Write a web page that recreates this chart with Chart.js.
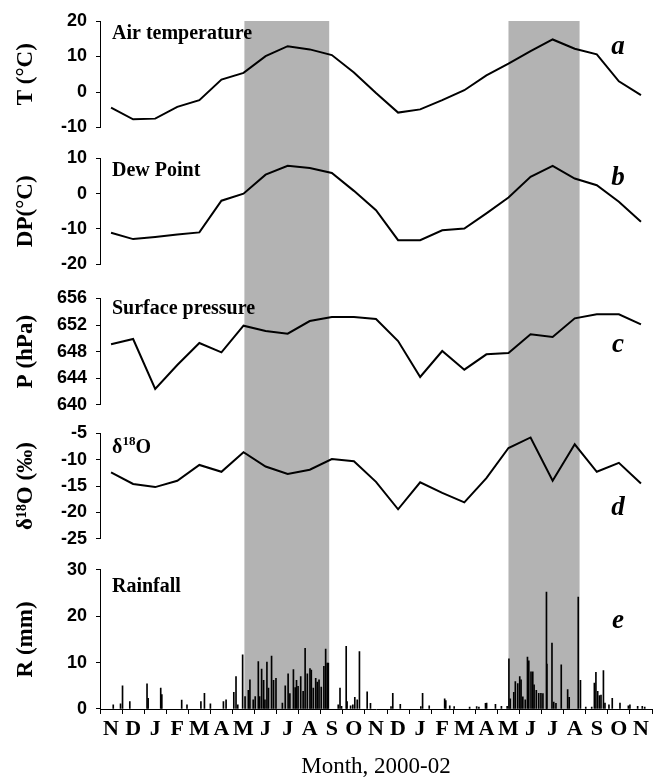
<!DOCTYPE html>
<html lang="en">
<head>
<meta charset="utf-8">
<title>Month, 2000-02</title>
<script src="https://cdn.jsdelivr.net/npm/chart.js"></script>
<style>
  html, body { margin: 0; padding: 0; background: #fff; }
  #wrap { width: 654px; height: 778px; }
</style>
</head>
<body>
<div id="wrap"><canvas id="chart" width="654" height="778"></canvas></div>
<script>
const months = ['N','D','J','F','M','A','M','J','J','A','S','O','N','D','J','F','M','A','M','J','J','A','S','O','N'];

// monthly means, Nov 2000 - Nov 2002
const airTemp  = [-4.4, -7.7, -7.5, -4.2, -2.3, 3.5, 5.4, 10.1, 12.9, 12.0, 10.4, 5.5, -0.3, -5.8, -4.9, -2.3, 0.5, 4.7, 8.0, 11.5, 14.8, 12.2, 10.6, 3.0, -0.9];
const dewPoint = [-11.1, -12.9, -12.3, -11.6, -11.0, -2.0, 0.0, 5.4, 7.9, 7.3, 5.9, 0.8, -4.7, -13.2, -13.2, -10.4, -9.9, -5.6, -1.1, 4.8, 7.9, 4.3, 2.4, -2.3, -8.0];
const pressure = [649.1, 649.9, 642.4, 646.0, 649.3, 647.9, 651.9, 651.1, 650.7, 652.6, 653.2, 653.2, 652.9, 649.6, 644.2, 648.1, 645.3, 647.6, 647.8, 650.6, 650.2, 653.0, 653.6, 653.6, 652.1];
const d18O     = [-12.4, -14.6, -15.2, -14.0, -11.0, -12.3, -8.6, -11.3, -12.7, -11.9, -9.9, -10.3, -14.2, -19.4, -14.3, -16.3, -18.1, -13.5, -7.8, -5.8, -14.0, -7.1, -12.3, -10.6, -14.5];

// daily rain events: time in months since 1 Nov 2000, amount in mm
const rainTime = [0.60, 0.93, 1.02, 1.35, 2.13, 2.18, 2.75, 2.80, 3.70, 3.94, 4.57, 4.73, 5.00, 5.59, 5.71,
  6.06, 6.16, 6.24, 6.46, 6.57, 6.72, 6.79, 6.94, 7.03, 7.17, 7.23, 7.32, 7.41, 7.47, 7.56, 7.63, 7.77, 7.86, 7.97,
  8.26, 8.39, 8.52, 8.60, 8.76, 8.84, 8.90, 8.97, 9.09, 9.20, 9.29, 9.39, 9.51, 9.57, 9.66, 9.77, 9.84, 9.92,
  10.02, 10.14, 10.22, 10.29, 10.34, 10.79, 10.87, 10.94, 11.15, 11.19, 11.35, 11.45, 11.54, 11.65, 11.75, 12.10, 12.25,
  13.18, 13.26, 13.60, 14.53, 14.61, 14.91, 15.61, 15.66, 15.84, 16.04, 16.74, 17.06, 17.16, 17.46, 17.51, 17.91,
  18.18, 18.44, 18.52, 18.58, 18.74, 18.81, 18.92, 19.01, 19.07, 19.15, 19.26, 19.36, 19.42, 19.52, 19.60, 19.66,
  19.76, 19.87, 19.97, 20.06, 20.22, 20.24, 20.47, 20.55, 20.65, 20.89, 21.18, 21.25, 21.66, 21.76,
  22.00, 22.27, 22.39, 22.46, 22.54, 22.62, 22.69, 22.80, 22.87, 23.05, 23.20, 23.55, 23.93, 24.00, 24.35, 24.56, 24.67];
const rainMm = [0.9, 1.1, 5.0, 1.6, 5.4, 2.3, 4.5, 3.1, 1.9, 0.9, 1.6, 3.4, 1.1, 1.6, 2.0,
  3.6, 7.0, 0.9, 11.7, 2.7, 4.0, 6.3, 2.0, 2.7, 10.2, 2.7, 8.6, 6.2, 2.0, 10.1, 4.5, 11.4, 6.2, 6.6,
  1.3, 5.0, 7.6, 3.3, 8.5, 4.6, 6.2, 4.9, 7.0, 3.8, 13.1, 7.6, 8.7, 8.4, 4.5, 6.6, 5.8, 6.3,
  4.7, 9.2, 12.9, 9.9, 9.9, 0.9, 4.5, 0.6, 13.5, 1.6, 0.7, 0.9, 2.5, 2.0, 12.4, 3.7, 1.2,
  0.5, 3.4, 1.0, 0.5, 3.4, 0.7, 2.2, 1.8, 0.7, 0.5, 0.4, 0.5, 0.4, 1.2, 1.3, 1.0,
  0.6, 0.6, 10.8, 2.2, 3.6, 5.9, 5.5, 7.0, 6.3, 2.6, 2.0, 11.2, 10.4, 8.0, 8.0, 5.2,
  4.0, 3.4, 3.4, 3.3, 25.2, 9.7, 14.2, 1.5, 1.2, 9.5, 4.2, 2.5, 24.1, 6.2,
  0.4, 0.4, 5.6, 7.9, 3.8, 2.9, 3.0, 8.3, 1.3, 0.9, 2.3, 1.3, 0.7, 0.9, 0.6, 0.6, 0.4];

// shaded wet seasons, months since 1 Nov 2000
const wetSeasons = [[6.54, 10.38], [18.5, 21.72]];

const serif = '"Liberation Serif", "Times New Roman", serif';
const sans = '"Liberation Sans", Arial, sans-serif';

function toPoints(values) {
  return values.map((v, i) => ({ x: i + 0.5, y: v }));
}

function panelAxis(title, min, max, step, order, stackWeight) {
  return {
    type: 'linear', position: 'left', stack: 'panels', weight: order, stackWeight,
    min, max,
    ticks: { stepSize: step, autoSkip: false, padding: 9, color: '#000',
      font: { family: sans, size: 18, weight: 'bold' } },
    grid: { drawOnChartArea: false, drawTicks: true, tickLength: 4, color: '#000' },
    border: { display: true, color: '#000', width: 1 },
    title: { display: true, text: title, color: '#000',
      font: { family: serif, size: 23, weight: 'bold', lineHeight: 1 }, padding: { top: 15, bottom: 0 } },
    afterFit(scale) { scale.width = 100; }
  };
}

function gapAxis(order, stackWeight) {
  return {
    type: 'linear', position: 'left', stack: 'panels', weight: order, stackWeight,
    min: 0, max: 1,
    ticks: { display: false }, grid: { display: false }, border: { display: false },
    afterFit(scale) { scale.width = 100; }
  };
}

const panelLabels = [
  { axis: 'yA', parts: [['Air temperature']], dy: 18, letter: 'a', letterDy: 33 },
  { axis: 'yB', parts: [['Dew Point']], dy: 18, letter: 'b', letterDy: 27 },
  { axis: 'yC', parts: [['Surface pressure']], dy: 16, letter: 'c', letterDy: 54 },
  { axis: 'yD', parts: [['\u03B4'], ['18', true], ['O']], dy: 20, letter: 'd', letterDy: 82 },
  { axis: 'yE', parts: [['Rainfall']], dy: 22, letter: 'e', letterDy: 58 }
];

const bandsPlugin = {
  id: 'bands',
  beforeDraw(chart) {
    const { ctx, chartArea, scales } = chart;
    ctx.save();
    ctx.fillStyle = '#b3b3b3';
    wetSeasons.forEach(([a, b]) => {
      const x0 = scales.x.getPixelForValue(a);
      const x1 = scales.x.getPixelForValue(b);
      ctx.fillRect(x0, chartArea.top, x1 - x0, chartArea.bottom - chartArea.top);
    });
    ctx.restore();
  }
};

const labelsPlugin = {
  id: 'panelLabels',
  afterDatasetsDraw(chart) {
    const { ctx, chartArea, scales } = chart;
    ctx.save();
    ctx.fillStyle = '#000';
    ctx.textBaseline = 'alphabetic';
    panelLabels.forEach(p => {
      const top = scales[p.axis].top;
      let x = chartArea.left + 12;
      const y = top + p.dy;
      p.parts.forEach(([t, sup]) => {
        ctx.font = sup ? 'bold 13px ' + serif : 'bold 20px ' + serif;
        ctx.textAlign = 'left';
        ctx.fillText(t, x, sup ? y - 8 : y);
        x += ctx.measureText(t).width;
      });
      ctx.font = 'italic bold 27px ' + serif;
      ctx.textAlign = 'center';
      ctx.fillText(p.letter, chartArea.right - 34, top + p.letterDy);
    });
    ctx.restore();
  }
};

const lineStyle = { type: 'line', borderColor: '#000', borderWidth: 2, pointRadius: 0, tension: 0, fill: false, xAxisID: 'x' };

new Chart(document.getElementById('chart'), {
  type: 'line',
  data: {
    datasets: [
      { ...lineStyle, label: 'T', data: toPoints(airTemp), yAxisID: 'yA' },
      { ...lineStyle, label: 'DP', data: toPoints(dewPoint), yAxisID: 'yB' },
      { ...lineStyle, label: 'P', data: toPoints(pressure), yAxisID: 'yC' },
      { ...lineStyle, label: 'd18O', data: toPoints(d18O), yAxisID: 'yD' },
      { type: 'bar', label: 'R', data: rainTime.map((t, i) => ({ x: t, y: rainMm[i] })),
        xAxisID: 'x', yAxisID: 'yE', backgroundColor: '#000', barThickness: 1, grouped: false }
    ]
  },
  options: {
    responsive: false,
    animation: false,
    devicePixelRatio: 1,
    layout: { padding: { top: 21, right: 0, bottom: 0, left: 0 } },
    plugins: { legend: { display: false }, tooltip: { enabled: false } },
    scales: {
      x: {
        type: 'linear', position: 'bottom', min: 0, max: 25, offset: false,
        afterFit(scale) { scale.height = 69; },
        ticks: { stepSize: 1, autoSkip: false, maxRotation: 0, minRotation: 0, padding: 2, labelOffset: 11,
          color: '#000', font: { family: serif, size: 22, weight: 'bold' },
          callback: v => months[Math.round(v)] ?? '' },
        grid: { drawOnChartArea: false, drawTicks: true, tickLength: 5, color: '#000', offset: false },
        border: { display: true, color: '#000' },
        title: { display: true, text: 'Month, 2000-02', color: '#000',
          font: { family: serif, size: 23, lineHeight: 1 }, padding: { top: 0, bottom: 0 } }
      },
      yA: panelAxis('T (\u00B0C)', -10, 20, 10, 9, 106.6),
      g1: gapAxis(8, 31),
      yB: panelAxis('DP(\u00B0C)', -20, 10, 10, 7, 105.7),
      g2: gapAxis(6, 34.3),
      yC: panelAxis('P (hPa)', 640, 656, 4, 5, 106.7),
      g3: gapAxis(4, 28.3),
      yD: panelAxis('\u03B4\u00B9\u2078O (\u2030)', -25, -5, 5, 3, 105.7),
      g4: gapAxis(2, 31),
      yE: panelAxis('R (mm)', 0, 30, 10, 1, 139.3)
    }
  },
  plugins: [bandsPlugin, labelsPlugin]
});
</script>
</body>
</html>
